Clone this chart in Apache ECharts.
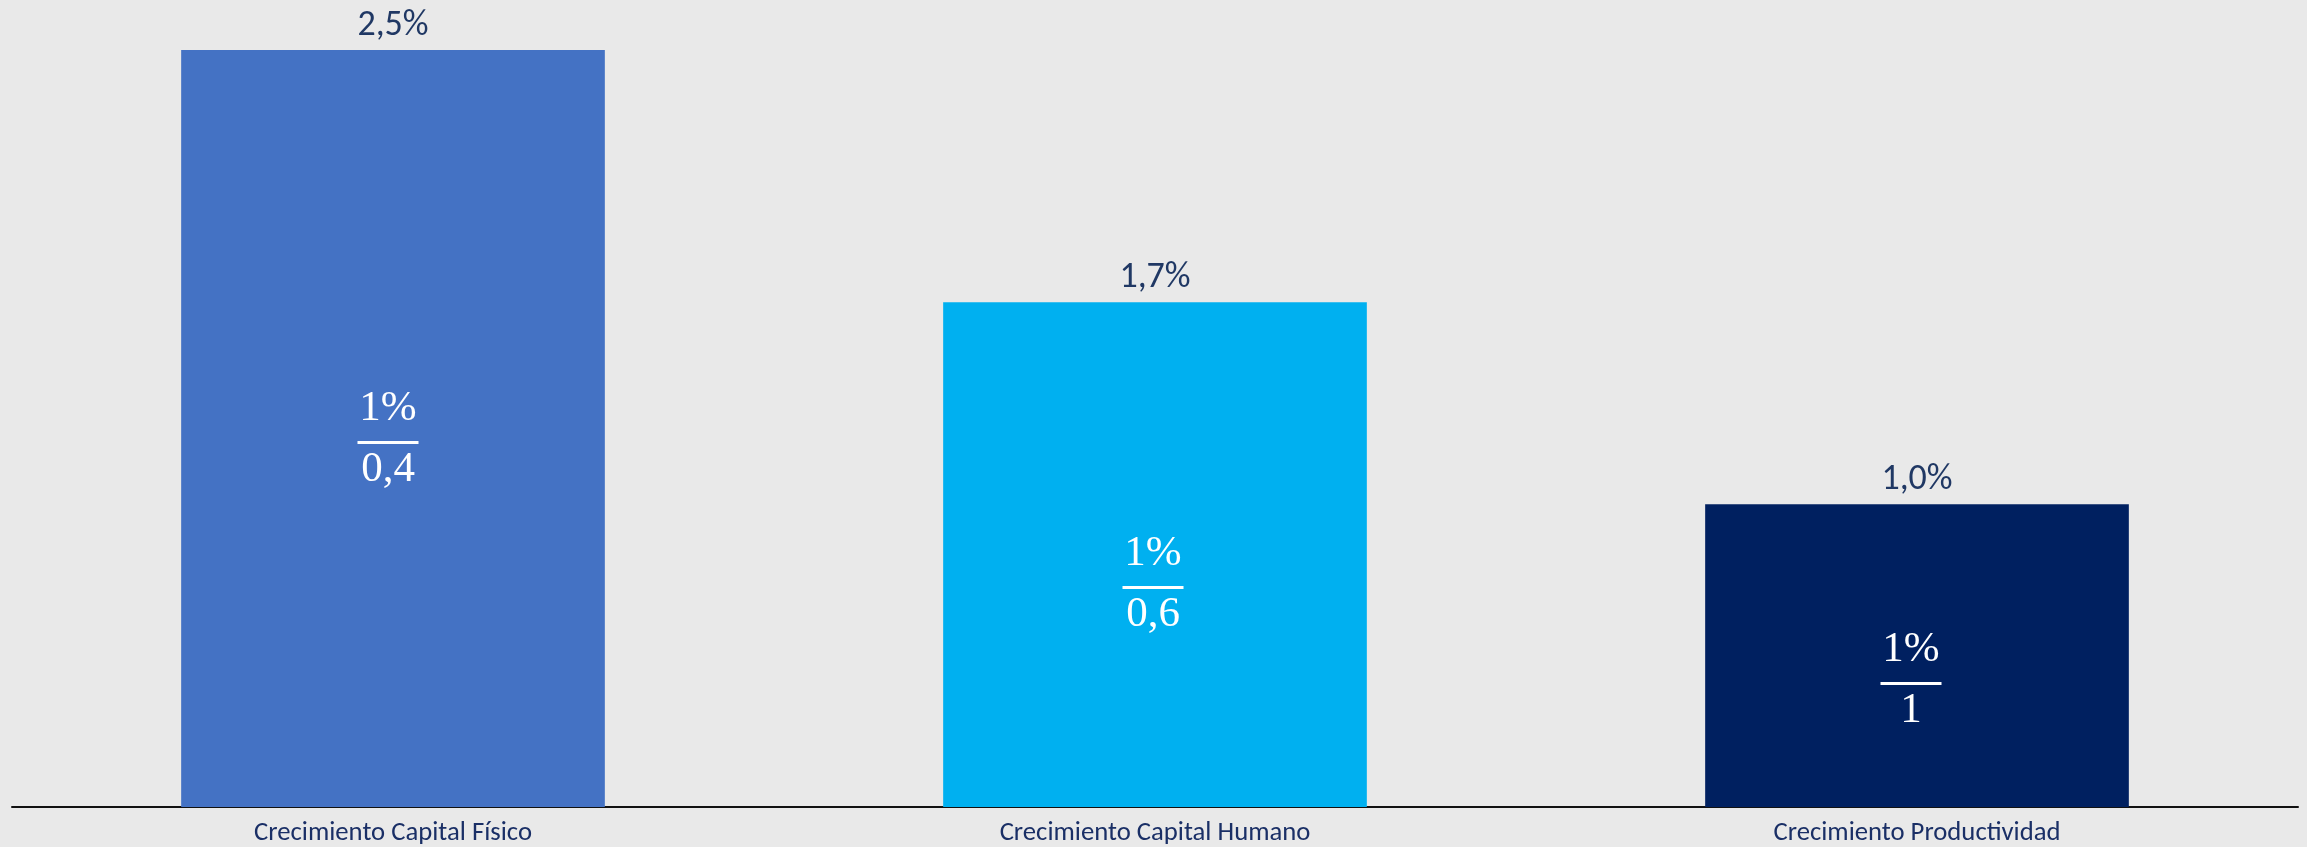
<!DOCTYPE html>
<html>
<head>
<meta charset="utf-8">
<script src="https://cdn.jsdelivr.net/npm/echarts@6/dist/echarts.min.js"></script>
<style>
html,body{margin:0;padding:0;background:#E9E9E9;}
#chart{width:2307px;height:847px;}
</style>
</head>
<body>
<div id="chart"></div>
<script>
// ---- data ----
const categories = ['Crecimiento Capital Físico', 'Crecimiento Capital Humano', 'Crecimiento Productividad'];
const growth = [2.5, 1.667, 1.0];
const numerators = ['1%', '1%', '1%'];
const denominators = ['0,4', '0,6', '1'];
const barColors = ['#4472C4', '#00B0F0', '#002060'];

// ---- style ----
const fractionOffsets = [[-5, 7], [-2, 26], [-6, 21]];

const chart = echarts.init(document.getElementById('chart'));
chart.setOption({
  backgroundColor: '#E9E9E9',
  animation: false,
  grid: { left: 12, right: 9, top: 50, bottom: 39, containLabel: false },
  xAxis: {
    type: 'category',
    data: categories,
    axisLine: { show: true, lineStyle: { color: '#111', width: 2 } },
    axisTick: { show: false },
    axisLabel: { color: '#1A2F66', fontFamily: 'Carlito, Lato, sans-serif', fontSize: 26.7, margin: 13 }
  },
  yAxis: { type: 'value', min: 0, max: 2.5, show: false, splitLine: { show: false } },
  series: [
    {
      type: 'bar',
      barCategoryGap: '44.4%',
      data: growth.map((v, i) => ({ value: v, itemStyle: { color: barColors[i] } })),
      label: {
        show: true,
        position: 'top',
        distance: 6,
        color: '#203864',
        fontFamily: 'Carlito, Lato, sans-serif',
        fontSize: 36,
        formatter: p => p.value.toFixed(1).replace('.', ',') + '%'
      }
    },
    {
      type: 'bar',
      barGap: '-100%',
      barCategoryGap: '44.4%',
      silent: true,
      data: growth.map((v, i) => ({
        value: v,
        itemStyle: { color: 'rgba(0,0,0,0)' },
        label: { offset: fractionOffsets[i] }
      })),
      label: {
        show: true,
        position: 'inside',
        formatter: p => '{n|' + numerators[p.dataIndex] + '}\n{hr|}\n{d|' + denominators[p.dataIndex] + '}',
        rich: {
          n: { fontFamily: '"Liberation Serif", serif', fontSize: 43, color: '#fff', lineHeight: 58, align: 'center' },
          hr: { width: 61, height: 3, backgroundColor: '#fff', lineHeight: 10, align: 'center' },
          d: { fontFamily: '"Liberation Serif", serif', fontSize: 43, color: '#fff', lineHeight: 44, align: 'center' }
        }
      }
    }
  ]
});
</script>
</body>
</html>
